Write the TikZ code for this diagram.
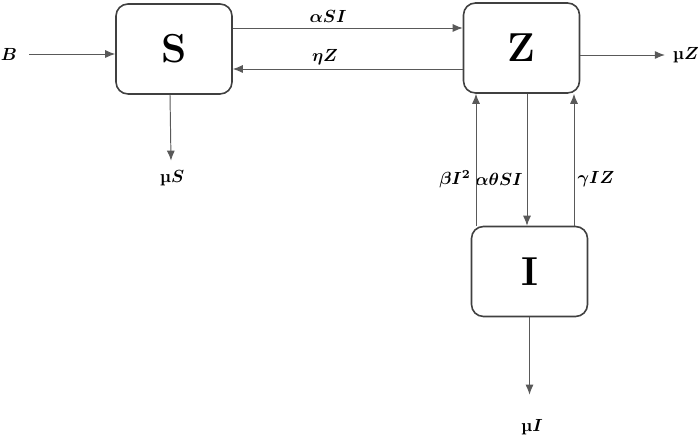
\documentclass[tikz,border=0pt]{standalone}
\usepackage{fontspec}
\usepackage{amsmath}
\usepackage{bm}
\usepackage{tikz}
\usetikzlibrary{arrows.meta}
\usetikzlibrary{calc}

\begin{document}
\begin{tikzpicture}[comp/.style={draw=black!75,line width=0.9pt,rounded corners=2.4mm,minimum width=2.32cm,minimum height=1.8cm,inner sep=0pt,font=\fontsize{23}{26}\selectfont\bfseries},
flow/.style={draw=black!65,line width=0.55pt,-{Latex[length=2mm,width=1.6mm]}},
rate/.style={inner sep=1pt,font=\fontsize{10}{12}\selectfont}]
\useasboundingbox (0,0) rectangle (14,8.72);
\node (S) [comp] at (3.48,7.74) {S};
\node (Z) [comp] at (10.43,7.76) {Z};
\node (I) [comp] at (10.59,3.29) {I};
\node (B) [rate] at (0.18,7.64) {$\bm{B}$};
\node (muS) [rate] at (3.44,5.16) {\textbf{µ}$\bm{S}$};
\node (muZ) [rate] at (13.72,7.62) {\textbf{µ}$\bm{Z}$};
\node (muI) [rate] at (10.64,0.18) {\textbf{µ}$\bm{I}$};
\node (aSI) [rate] at (6.56,8.4) {$\bm{\alpha SI}$};
\node (eZ) [rate] at (6.5,7.58) {$\bm{\eta Z}$};
\node (bI) [rate] at (9.1,5.14) {$\bm{\beta I^2}$};
\node (atSI) [rate] at (9.98,5.14) {$\bm{\alpha\theta SI}$};
\node (gIZ) [rate] at (11.92,5.14) {$\bm{\gamma IZ}$};
\draw[flow] ([xshift=0.2cm]B.east) -- (B.east -| S.west);
\draw[flow] ([yshift=4.2mm]S.east) -- ([yshift=4.2mm]S.east -| Z.west);
\draw[flow] ([yshift=-4.2mm]Z.west) -- ([yshift=-4.2mm]Z.west -| S.east);
\draw[flow] ([xshift=-0.8mm]S.south) -- ([xshift=-0.2mm,yshift=1.5mm]muS.north);
\draw[flow] (Z.east |- muZ) -- ([xshift=-1.2mm]muZ.west);
\draw[flow] ([xshift=-10.7mm]I.north) -- ([xshift=-10.7mm]I.north |- Z.south);
\draw[flow] ([xshift=1.1mm]Z.south) -- ([xshift=1.1mm]Z.south |- I.north);
\draw[flow] ([xshift=8.9mm]I.north) -- ([xshift=8.9mm]I.north |- Z.south);
\draw[flow] (I.south) -- ([yshift=4.5mm]I.south |- muI.north);
\end{tikzpicture}
\end{document}
